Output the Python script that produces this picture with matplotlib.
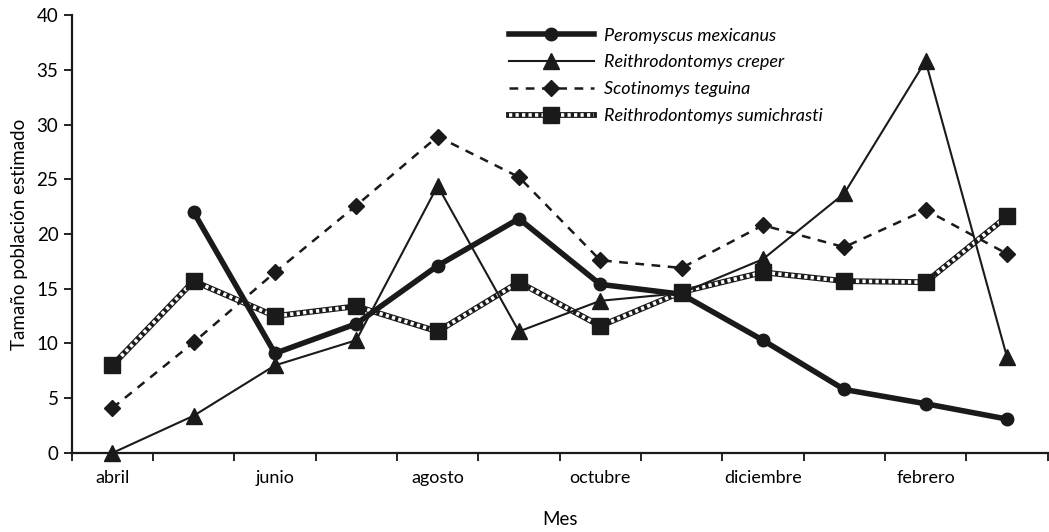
import matplotlib
matplotlib.use("Agg")
import matplotlib.pyplot as plt

# months shown on the x axis (only every other one is labelled)
meses = ["abril", "mayo", "junio", "julio", "agosto", "septiembre",
         "octubre", "noviembre", "diciembre", "enero", "febrero", "marzo"]

# estimated population size per month
peromyscus = [None, 22.0, 9.1, 11.8, 17.1, 21.4, 15.4, 14.5, 10.3, 5.8, 4.5, 3.1]
creper = [0.0, 3.4, 8.0, 10.3, 24.4, 11.1, 13.9, 14.6, 17.7, 23.7, 35.8, 8.8]
teguina = [4.1, 10.1, 16.5, 22.6, 28.9, 25.2, 17.6, 16.9, 20.8, 18.8, 22.2, 18.2]
sumichrasti = [8.0, 15.7, 12.5, 13.4, 11.1, 15.6, 11.6, 14.7, 16.5, 15.7, 15.6, 21.6]

plt.rcParams["font.family"] = ["Lato", "DejaVu Sans"]

fig = plt.figure(figsize=(10.49, 5.32), dpi=100)
ax = fig.add_axes([0.0683, 0.1485, 0.9303, 0.8233])

x = list(range(len(meses)))
xp = [i for i, v in zip(x, peromyscus) if v is not None]
yp = [v for v in peromyscus if v is not None]

k = "#1a1a1a"

# R. sumichrasti: checkered line = black line + white dotted line on top
s_base, = ax.plot(x, sumichrasti, color=k, lw=4.2, zorder=2, clip_on=False)
s_top, = ax.plot(x, sumichrasti, color="white", lw=2.6,
                 linestyle=(0, (0.9, 0.9)), zorder=2.1, clip_on=False)
s_mark, = ax.plot(x, sumichrasti, color=k, lw=0, marker="s", ms=12,
                  zorder=5, clip_on=False)

t_line, = ax.plot(x, teguina, color=k, lw=1.8, linestyle=(0, (3.5, 3)),
                  marker="D", ms=8.5, zorder=3, clip_on=False)
c_line, = ax.plot(x, creper, color=k, lw=1.5, marker="^", ms=12, zorder=3,
                  clip_on=False)
p_line, = ax.plot(xp, yp, color=k, lw=4, marker="o", ms=9, zorder=4,
                  clip_on=False)

ax.set_xlim(-0.5, 11.5)
ax.set_ylim(0, 40)
ax.set_yticks(range(0, 41, 5))
ax.set_xticks([i + 0.5 for i in range(-1, 12)], minor=False)
ax.set_xticklabels([])
ax.set_xticks(x[::2], minor=True)
ax.set_xticklabels(meses[::2], minor=True)
ax.tick_params(axis="x", which="major", length=6, width=1.2, direction="out")
ax.tick_params(axis="x", which="minor", length=0, pad=12, labelsize=13)
ax.tick_params(axis="y", length=6, width=1.2, direction="out", labelsize=13.5)

for side in ["top", "right"]:
    ax.spines[side].set_visible(False)
for side in ["left", "bottom"]:
    ax.spines[side].set_linewidth(1.6)
    ax.spines[side].set_color(k)

ax.set_xlabel("Mes", fontsize=13.5, labelpad=18)
ax.set_ylabel("Tamaño población estimado", fontsize=13.5, labelpad=6)

leg = ax.legend([p_line, c_line, t_line, (s_base, s_top, s_mark)],
                ["Peromyscus mexicanus", "Reithrodontomys creper",
                 "Scotinomys teguina", "Reithrodontomys sumichrasti"],
                loc="upper left", bbox_to_anchor=(0.435, 1.0),
                frameon=False, handlelength=4.7, handletextpad=0.6,
                labelspacing=0.6, borderaxespad=0.3,
                prop={"style": "italic", "size": 13})

fig.savefig("out.png", dpi=100)
